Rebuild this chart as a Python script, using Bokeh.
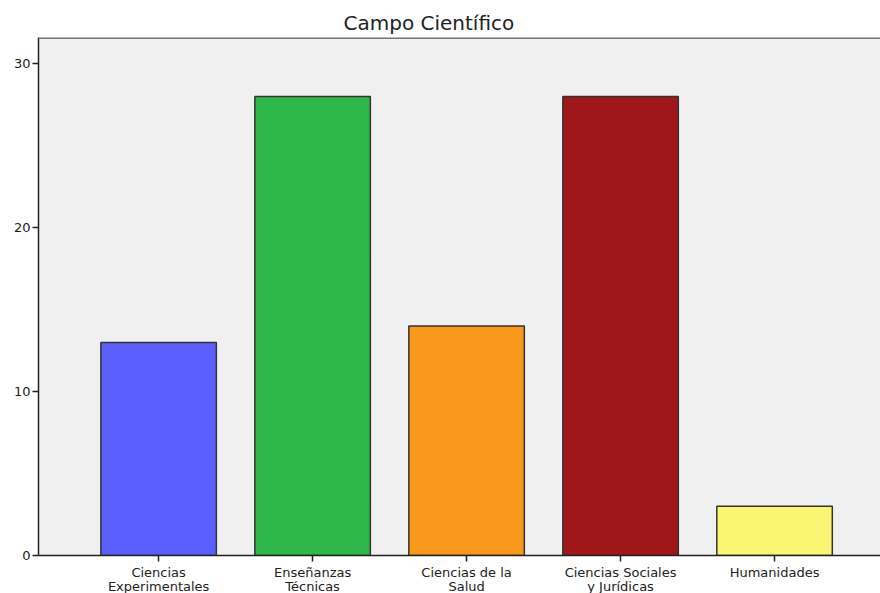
from bokeh.plotting import figure
from bokeh.models import FixedTicker, Span, ColumnDataSource, Range1d
from bokeh.embed import file_html
from bokeh.resources import INLINE

categories = ["Ciencias\nExperimentales", "Enseñanzas\nTécnicas", "Ciencias de la\nSalud",
              "Ciencias Sociales\ny Jurídicas", "Humanidades"]
counts = [13, 28, 14, 28, 3]
colors = ["#5B5FFF", "#2EB84A", "#F8981D", "#A0161A", "#FAF674"]
y_ticks = [0, 10, 20, 30]

positions = list(range(len(categories)))
src = ColumnDataSource(dict(x=positions, top=counts, color=colors))

FONT = "DejaVu Sans"

p = figure(frame_width=842, frame_height=518,
           x_range=Range1d(-0.78, 4.688), y_range=Range1d(0, 31.6),
           output_backend="svg", toolbar_location=None,
           min_border_left=38, min_border_right=0, min_border_top=37, min_border_bottom=38,
           background_fill_color="#F0F0F0", border_fill_color="white",
           title="Campo Científico")

p.vbar(x="x", top="top", bottom=0, width=0.75, source=src, fill_color="color",
       line_color="#333333", line_width=1.5)

p.title.text_font = FONT
p.title.text_font_size = "20px"
p.title.text_font_style = "normal"
p.title.text_color = "#222222"
p.title.align = "left"
p.title.offset = 305
p.title.standoff = 6

p.outline_line_color = None
p.add_layout(Span(location=31.6, dimension="width", line_color="#7A7A7A", line_width=3))

p.xgrid.visible = False
p.ygrid.visible = False

p.xaxis.ticker = FixedTicker(ticks=positions)
p.xaxis.major_label_overrides = {i: c for i, c in enumerate(categories)}
p.yaxis.ticker = FixedTicker(ticks=y_ticks)

for ax in (p.xaxis[0], p.yaxis[0]):
    ax.axis_line_color = "#222222"
    ax.axis_line_width = 1.5
    ax.major_tick_line_color = "#222222"
    ax.major_tick_line_width = 1.5
    ax.major_tick_in = 0
    ax.major_tick_out = 6
    ax.minor_tick_line_color = None
    ax.major_label_text_font = FONT
    ax.major_label_text_color = "#222222"

p.xaxis.major_label_text_font_size = "13px"
p.xaxis.major_label_text_line_height = 0.95
p.xaxis.major_label_standoff = 3
p.yaxis.major_label_text_font_size = "13px"
p.yaxis.major_label_standoff = 2

open("out.html", "w").write(file_html(p, INLINE))
